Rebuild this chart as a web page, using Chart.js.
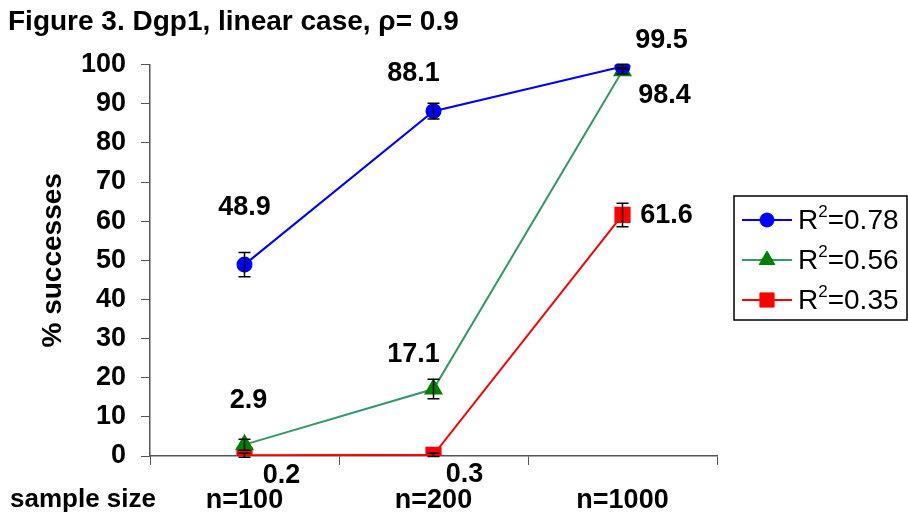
<!DOCTYPE html>
<html>
<head>
<meta charset="utf-8">
<script src="https://cdn.jsdelivr.net/npm/chart.js@4.4.0/dist/chart.umd.min.js"></script>
<style>
  body { margin: 0; background: #fff; }
  #wrap { width: 908px; height: 515px; }
</style>
</head>
<body>
<div id="wrap"><canvas id="myChart"></canvas></div>
<script>
var Categories = ['n=100', 'n=200', 'n=1000'];
var SeriesNames = ['0.78', '0.56', '0.35'];
var Blue = [48.9, 88.1, 99.5];
var Green = [2.9, 17.1, 98.4];
var Red = [0.2, 0.3, 61.6];
var BlueErr = [3.1, 2.0, 0.6];
var GreenErr = [1.4, 2.5, 0.8];
var RedErr = [0.5, 0.4, 3.0];
var YTicks = [0, 10, 20, 30, 40, 50, 60, 70, 80, 90, 100];

var FONT = '"Liberation Sans", Arial, sans-serif';

// where each value label sits relative to its point (px)
var labelOffsets = [
    [[0, -57], [-20, -38], [39, -26]],
    [[4, -44], [-20, -35], [42, 25]],
    [[37, 20], [31, 20], [44, 1]]
];
var errors = [BlueErr, GreenErr, RedErr];

var extras = {
    id: 'extras',
    afterDatasetsDraw: function (chart) {
        var ctx = chart.ctx;
        var y = chart.scales.y;
        ctx.save();
        // error bars
        ctx.strokeStyle = '#000';
        ctx.lineWidth = 1.5;
        chart.data.datasets.forEach(function (ds, i) {
            var meta = chart.getDatasetMeta(i);
            meta.data.forEach(function (pt, j) {
                var v = ds.data[j];
                var e = errors[i][j];
                var top = y.getPixelForValue(v + e);
                var bot = y.getPixelForValue(v - e);
                ctx.beginPath();
                ctx.moveTo(pt.x, top); ctx.lineTo(pt.x, bot);
                ctx.moveTo(pt.x - 6, top); ctx.lineTo(pt.x + 6, top);
                ctx.moveTo(pt.x - 6, bot); ctx.lineTo(pt.x + 6, bot);
                ctx.stroke();
            });
        });
        // value labels
        ctx.fillStyle = '#000';
        ctx.font = 'bold 27px ' + FONT;
        ctx.textAlign = 'center';
        ctx.textBaseline = 'middle';
        chart.data.datasets.forEach(function (ds, i) {
            var meta = chart.getDatasetMeta(i);
            meta.data.forEach(function (pt, j) {
                var off = labelOffsets[i][j];
                ctx.fillText(ds.data[j].toFixed(1), pt.x + off[0], pt.y + off[1]);
            });
        });
        // x axis caption
        ctx.textAlign = 'left';
        ctx.font = 'bold 26px ' + FONT;
        ctx.fillText('sample size', 10, 500);

        // legend
        var lx = 734, ly = 196, lw = 173, lh = 124;
        ctx.lineWidth = 1.5;
        ctx.strokeStyle = '#000';
        ctx.strokeRect(lx, ly, lw, lh);
        chart.data.datasets.forEach(function (ds, i) {
            var cy = ly + 24 + i * 40;
            ctx.strokeStyle = ds.borderColor;
            ctx.lineWidth = 2;
            ctx.beginPath();
            ctx.moveTo(742, cy); ctx.lineTo(792, cy);
            ctx.stroke();
            ctx.fillStyle = ds.pointBackgroundColor;
            ctx.strokeStyle = ds.pointBorderColor;
            ctx.lineWidth = 1;
            Chart.helpers.drawPoint(ctx, {pointStyle: ds.pointStyle, radius: ds.pointRadius, rotation: 0, borderWidth: 1}, 767, cy);
            ctx.fillStyle = '#000';
            ctx.textBaseline = 'middle';
            ctx.font = '28px ' + FONT;
            ctx.fillText('R', 798, cy + 1);
            var w = ctx.measureText('R').width;
            ctx.font = '17px ' + FONT;
            ctx.fillText('2', 798 + w, cy - 8);
            var w2 = ctx.measureText('2').width;
            ctx.font = '28px ' + FONT;
            ctx.fillText('=' + SeriesNames[i], 798 + w + w2, cy + 1);
        });
        ctx.restore();
    }
};

var ctx = document.getElementById('myChart').getContext('2d');
var myChart = new Chart(ctx, {
    type: 'line',
    data: {
        labels: Categories,
        datasets: [{
            label: 'R²=' + SeriesNames[0],
            data: Blue,
            borderColor: '#0000FF',
            borderWidth: 2,
            pointStyle: 'circle',
            pointRadius: 7,
            pointBackgroundColor: '#0000FF',
            pointBorderColor: '#0000FF'
        }, {
            label: 'R²=' + SeriesNames[1],
            data: Green,
            borderColor: '#339966',
            borderWidth: 2,
            pointStyle: 'triangle',
            pointRadius: 9,
            pointBackgroundColor: '#008000',
            pointBorderColor: '#008000'
        }, {
            label: 'R²=' + SeriesNames[2],
            data: Red,
            borderColor: '#FF0000',
            borderWidth: 2,
            pointStyle: 'rect',
            pointRadius: 10,
            pointBackgroundColor: '#FF0000',
            pointBorderColor: '#FF0000'
        }]
    },
    options: {
        responsive: true,
        maintainAspectRatio: false,
        animation: false,
        layout: { padding: { left: 8, right: 191, top: 0, bottom: 0 } },
        plugins: {
            legend: { display: false },
            tooltip: { enabled: false },
            title: {
                display: true,
                text: 'Figure 3. Dgp1, linear case, ρ= 0.9',
                align: 'start',
                color: '#000',
                font: { family: FONT, size: 28, weight: 'bold' },
                padding: { top: 5, bottom: 26 }
            }
        },
        scales: {
            x: {
                offset: true,
                grid: { offset: true, drawOnChartArea: false, drawTicks: true, tickLength: 9, color: '#555' },
                border: { color: '#555', width: 1.5 },
                ticks: { color: '#000', padding: 19, font: { family: FONT, size: 27, weight: 'bold' } },
                afterFit: function (scale) { scale.height = 59; }
            },
            y: {
                min: 0,
                max: 100,
                afterBuildTicks: function (scale) {
                    scale.ticks = YTicks.map(function (v) { return { value: v }; });
                },
                grid: { drawOnChartArea: false, drawTicks: true, tickLength: 9, color: '#555' },
                border: { color: '#555', width: 1.5 },
                ticks: { color: '#000', padding: 15, font: { family: FONT, size: 27, weight: 'bold' } },
                title: {
                    display: true,
                    text: '% successes',
                    color: '#000',
                    font: { family: FONT, size: 28, weight: 'bold' },
                    padding: { top: 28, bottom: 0 }
                },
                afterFit: function (scale) { scale.width = 142; }
            }
        }
    },
    plugins: [extras]
});
</script>
</body>
</html>
